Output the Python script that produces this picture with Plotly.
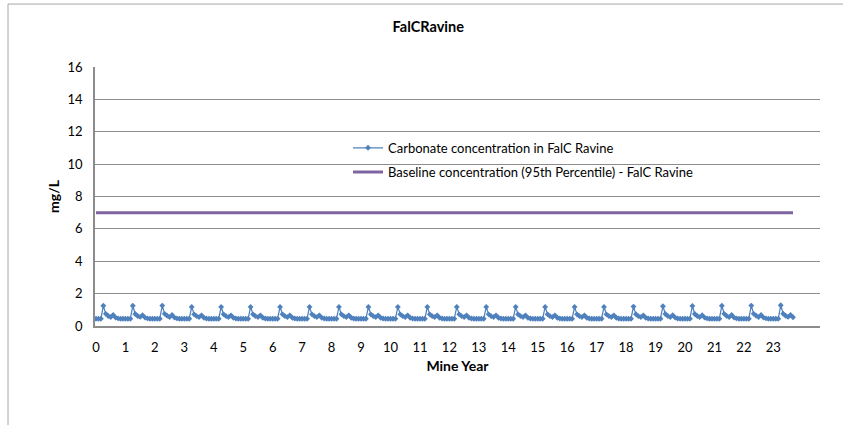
import plotly.graph_objects as go

# ---- data ----
title_text = "FalCRavine"
x_title = "Mine Year"
y_title = "mg/L"
series_name = "Carbonate concentration in FalC Ravine"
baseline_name = "Baseline concentration (95th Percentile) - FalC Ravine"

# monthly carbonate concentration (mg/L), 12 values per mine year
carbonate = [
    0.45, 0.45, 0.45, 1.25, 0.75, 0.62, 0.55, 0.68, 0.52, 0.47, 0.45, 0.45,   # 0
    0.45, 0.45, 0.45, 1.25, 0.74, 0.62, 0.56, 0.67, 0.52, 0.47, 0.45, 0.45,   # 1
    0.45, 0.45, 0.45, 1.26, 0.75, 0.63, 0.55, 0.68, 0.52, 0.47, 0.45, 0.45,   # 2
    0.45, 0.45, 0.45, 1.18, 0.72, 0.61, 0.55, 0.66, 0.51, 0.46, 0.45, 0.45,   # 3
    0.45, 0.45, 0.45, 1.18, 0.72, 0.61, 0.55, 0.66, 0.51, 0.46, 0.45, 0.45,   # 4
    0.45, 0.45, 0.45, 1.18, 0.72, 0.61, 0.55, 0.66, 0.51, 0.46, 0.45, 0.45,   # 5
    0.45, 0.45, 0.45, 1.18, 0.72, 0.61, 0.55, 0.66, 0.51, 0.46, 0.45, 0.45,   # 6
    0.45, 0.45, 0.45, 1.18, 0.72, 0.61, 0.55, 0.66, 0.51, 0.46, 0.45, 0.45,   # 7
    0.45, 0.45, 0.45, 1.18, 0.72, 0.61, 0.55, 0.66, 0.51, 0.46, 0.45, 0.45,   # 8
    0.45, 0.45, 0.45, 1.18, 0.72, 0.61, 0.55, 0.66, 0.51, 0.46, 0.45, 0.45,   # 9
    0.45, 0.45, 0.45, 1.18, 0.72, 0.61, 0.55, 0.66, 0.51, 0.46, 0.45, 0.45,   # 10
    0.45, 0.45, 0.45, 1.18, 0.72, 0.61, 0.55, 0.66, 0.51, 0.46, 0.45, 0.45,   # 11
    0.45, 0.45, 0.45, 1.18, 0.72, 0.61, 0.55, 0.66, 0.51, 0.46, 0.45, 0.45,   # 12
    0.45, 0.45, 0.45, 1.18, 0.72, 0.61, 0.55, 0.66, 0.51, 0.46, 0.45, 0.45,   # 13
    0.45, 0.45, 0.45, 1.18, 0.72, 0.61, 0.55, 0.66, 0.51, 0.46, 0.45, 0.45,   # 14
    0.45, 0.45, 0.45, 1.18, 0.72, 0.61, 0.55, 0.66, 0.51, 0.46, 0.45, 0.45,   # 15
    0.45, 0.45, 0.45, 1.18, 0.72, 0.61, 0.55, 0.66, 0.51, 0.46, 0.45, 0.45,   # 16
    0.45, 0.45, 0.45, 1.18, 0.72, 0.61, 0.55, 0.66, 0.51, 0.46, 0.45, 0.45,   # 17
    0.45, 0.45, 0.45, 1.2, 0.73, 0.61, 0.55, 0.66, 0.51, 0.46, 0.45, 0.45,    # 18
    0.45, 0.45, 0.45, 1.22, 0.74, 0.62, 0.55, 0.67, 0.52, 0.46, 0.45, 0.45,   # 19
    0.45, 0.45, 0.45, 1.24, 0.74, 0.62, 0.55, 0.67, 0.52, 0.47, 0.45, 0.45,   # 20
    0.45, 0.45, 0.45, 1.25, 0.75, 0.62, 0.55, 0.68, 0.52, 0.47, 0.45, 0.45,   # 21
    0.45, 0.45, 0.45, 1.26, 0.75, 0.63, 0.55, 0.68, 0.52, 0.47, 0.45, 0.45,   # 22
    0.45, 0.45, 0.45, 1.28, 0.76, 0.63, 0.56, 0.68, 0.54,                     # 23
]
months = list(range(len(carbonate)))
baseline_value = 7.0
baseline = [baseline_value] * len(months)

year_labels = [str(y) for y in range(24)]
year_tick_months = [12 * y for y in range(24)]
y_ticks = [0, 2, 4, 6, 8, 10, 12, 14, 16]

# ---- figure ----
FONT = "Lato, 'Open Sans', sans-serif"
GRID = "#8c8c8c"

fig = go.Figure()
fig.add_trace(go.Scatter(
    x=months, y=carbonate, name=series_name, mode="lines+markers",
    line=dict(color="#4F81BD", width=1.25),
    marker=dict(symbol="diamond", size=4.5, color="#4F81BD"),
    legend="legend", showlegend=True,
))
fig.add_trace(go.Scatter(
    x=months, y=baseline, name=baseline_name, mode="lines",
    line=dict(color="#8064A2", width=3),
    legend="legend2", showlegend=True,
))

fig.update_layout(
    width=843, height=425,
    margin=dict(l=95, r=23, t=67, b=99),
    paper_bgcolor="white", plot_bgcolor="white",
    showlegend=True,
    font=dict(family=FONT, size=13, color="#000000"),
    title=dict(text="<b>" + title_text + "</b>", x=0.508, xanchor="center",
               y=0.937, yanchor="middle", font=dict(size=14.5, family=FONT)),
    legend=dict(x=0.349, y=0.688, xanchor="left", yanchor="middle",
                bgcolor="rgba(0,0,0,0)", font=dict(size=13, family=FONT),
                itemwidth=30),
    legend2=dict(x=0.349, y=0.594, xanchor="left", yanchor="middle",
                 bgcolor="rgba(0,0,0,0)", font=dict(size=13, family=FONT),
                 itemwidth=30),
    xaxis=dict(
        range=[-0.4, 295], tickmode="array", tickvals=year_tick_months,
        ticktext=year_labels, showgrid=False, zeroline=False,
        showline=True, linecolor=GRID, linewidth=1.5, ticks="",
        ticklabelstandoff=9,
        title=dict(text="<b>" + x_title + "</b>", font=dict(size=14), standoff=7),
        tickfont=dict(size=13),
    ),
    yaxis=dict(
        range=[0, 16], tickmode="array", tickvals=y_ticks,
        showgrid=True, gridcolor=GRID, gridwidth=1, zeroline=False,
        showline=True, linecolor=GRID, linewidth=1.5, ticks="",
        ticklabelstandoff=8,
        title=dict(text="<b>" + y_title + "</b>", font=dict(size=14), standoff=5),
        tickfont=dict(size=13),
    ),
    shapes=[dict(type="rect", xref="paper", yref="paper",
                 x0=-0.12, x1=1.3, y0=-0.6, y1=1.243,
                 line=dict(color="#a6a6a6", width=1), layer="below")],
)

fig.write_html("out.html", config={"displayModeBar": False},
               post_script="document.body.style.margin='0';")
